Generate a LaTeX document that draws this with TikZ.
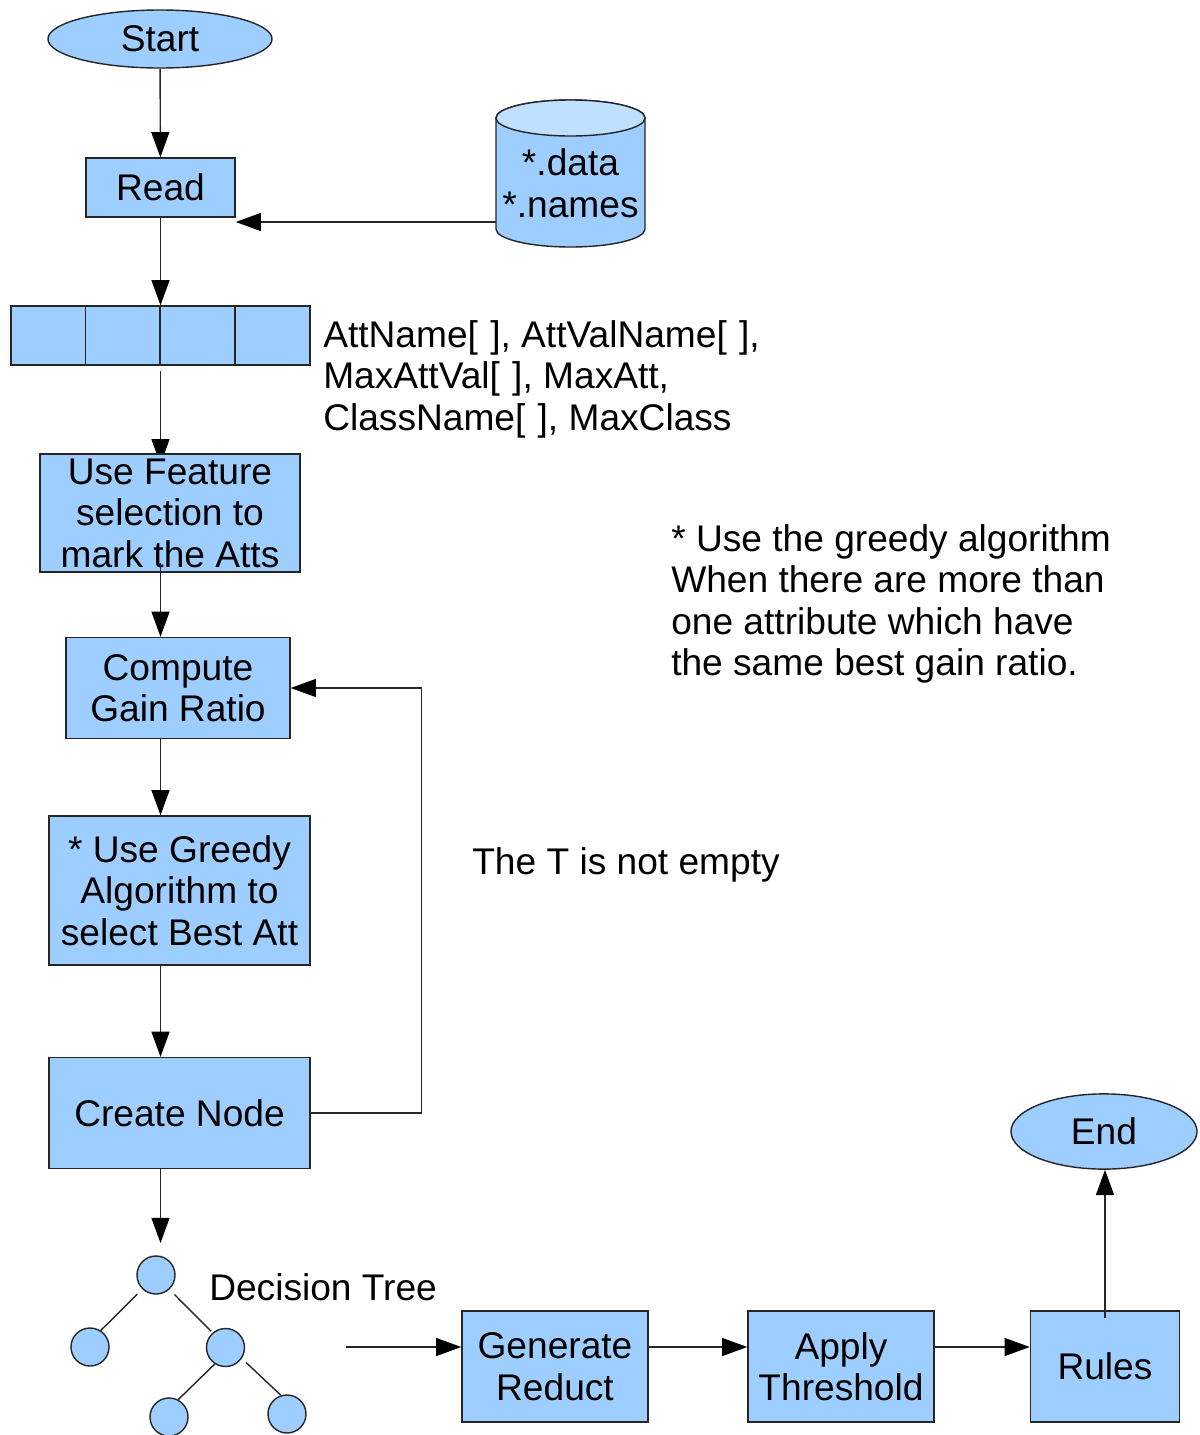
\documentclass[tikz,border=0pt]{standalone}
\usepackage{fontspec}
\setmainfont{Liberation Sans}
\usetikzlibrary{shapes.geometric, arrows.meta, backgrounds, calc}
\definecolor{boxblue}{HTML}{9ECEFF}
\definecolor{topblue}{HTML}{BFE0FF}
\newcommand{\emptybr}{[\hspace{0.33em}]}
\tikzset{
    flow/.style={draw=black!85, line width=1pt, -{Triangle[length=6.3mm,width=4.5mm,color=black]}},
    plain/.style={draw=black!85, line width=1pt},
    boxnode/.style={draw=black!85, line width=1pt, fill=boxblue, align=center, inner sep=0pt},
    note/.style={anchor=west, align=left, inner sep=0pt},
    treenode/.style={circle, draw=black!85, line width=1pt, fill=boxblue, minimum size=9.5mm, inner sep=0pt}
}
\begin{document}
\begin{tikzpicture}[x=0.025cm, y=-0.025cm, font=\fontsize{26.4}{29.5}\selectfont]
    \useasboundingbox (0,0) rectangle (1199,1435);

    % Ellipses at the two ends
    \node[boxnode, ellipse, minimum width=5.6cm, minimum height=1.45cm] (start) at (160,39) {Start};
    \node[boxnode, ellipse, minimum width=4.65cm, minimum height=1.88cm] (finish) at (1104,1131.5) {End};

    % Boxes of the main column
    \node[boxnode, minimum width=3.725cm, minimum height=1.475cm] (read) at (160.5,187.5) {Read};
    \node[boxnode, minimum width=6.5cm, minimum height=2.95cm] (feature) at (170,513) {Use Feature\\selection to\\mark the Atts};
    \node[boxnode, minimum width=5.6cm, minimum height=2.525cm] (gain) at (178,688) {Compute\\Gain Ratio};
    \node[boxnode, minimum width=6.525cm, minimum height=3.725cm] (greedy) at (179.5,890.5) {* Use Greedy\\Algorithm to\\select Best Att};
    \node[boxnode, minimum width=6.525cm, minimum height=2.775cm] (create) at (179.5,1113) {Create Node};

    % Boxes of the bottom row
    \node[boxnode, minimum width=4.65cm, minimum height=2.775cm] (reduct) at (555,1366.5) {Generate\\Reduct};
    \node[boxnode, minimum width=4.65cm, minimum height=2.775cm] (threshold) at (841,1366.5) {Apply\\Threshold};
    \node[boxnode, minimum width=3.725cm, minimum height=2.775cm] (rules) at (1105,1366.5) {Rules};

    % Data store
    \path[plain, fill=boxblue] (496,118) -- (496,229) arc[start angle=180, end angle=360, x radius=1.8625cm, y radius=0.45cm]
        -- (645,118) arc[start angle=0, end angle=180, x radius=1.8625cm, y radius=0.45cm] -- cycle;
    \path[plain, fill=topblue] (570.5,118) ellipse[x radius=1.8625cm, y radius=0.45cm];
    \node[align=center, inner sep=0pt, minimum width=3.725cm] (store) at (570.5,183) {*.data\\*.names};

    % Array of four cells
    \foreach \i/\cx in {1/48.5, 2/123, 3/197.5, 4/272.5}
        \node[boxnode, minimum width=1.87cm, minimum height=1.475cm] (cell\i) at (\cx,335.5) {};

    % Decision tree
    \node[treenode] (root) at (156,1275) {};
    \node[treenode] (left) at (90,1347) {};
    \node[treenode] (right) at (225.5,1347.5) {};
    \node[treenode] (rightleft) at (169,1417) {};
    \node[treenode] (rightright) at (287,1414) {};
    \draw[plain, shorten <=1.75mm] (root.226) -- (left.57);
    \draw[plain, shorten <=1.75mm, shorten >=0.5mm] (root.313) -- (right.131);
    \draw[plain] (right.237) -- (rightleft.62);
    \draw[plain, shorten <=1.5mm] (right.326) -- (rightright.108);

    % Free ends of the connectors
    \coordinate (cellout) at (160.5,371);
    \coordinate (featureout) at (160.5,563);
    \coordinate (treein) at (160.5,1243);
    \coordinate (treeout) at (346,1347);
    \coordinate (rulesout) at (1105,1318);

    % Connectors
    \draw[flow] (start) -- (read);
    \draw[flow] (read) -- (read |- cell2.north);
    \begin{scope}[on background layer]
        \draw[flow] (cellout) -- ($(cellout |- feature.north)+(0,11)$);
    \end{scope}
    \draw[flow] (featureout) -- (featureout |- gain.north);
    \draw[flow] (gain.south -| read) -- (read |- greedy.north);
    \draw[flow] (greedy.south -| read) -- (read |- create.north);
    \draw[flow] (create.south -| read) -- (treein);
    \draw[flow] (store.west |- 0,222) -- (read.east |- 0,222);
    \draw[flow] (create.east) -- ++(111,0) |- (gain.east);
    \draw[flow] (treeout) -- (reduct.west |- treeout);
    \draw[flow] (reduct.east |- treeout) -- (threshold.west |- treeout);
    \draw[flow] (threshold.east |- treeout) -- (rules.west |- treeout);
    \draw[flow] (rulesout) -- (finish.south -| rulesout);

    % Labels
    \node[note] (attlabel) at (323,379) {AttName\emptybr, AttValName\emptybr,\\MaxAttVal\emptybr, MaxAtt,\\ClassName\emptybr, MaxClass};
    \node[note] (greedylabel) at (671,604) {* Use the greedy algorithm\\When there are more than\\one attribute which have\\the same best gain ratio.};
    \node[note] (looplabel) at (472,865) {The T is not empty};
    \node[note] (treelabel) at (209,1287.5) {Decision Tree};
\end{tikzpicture}
\end{document}
